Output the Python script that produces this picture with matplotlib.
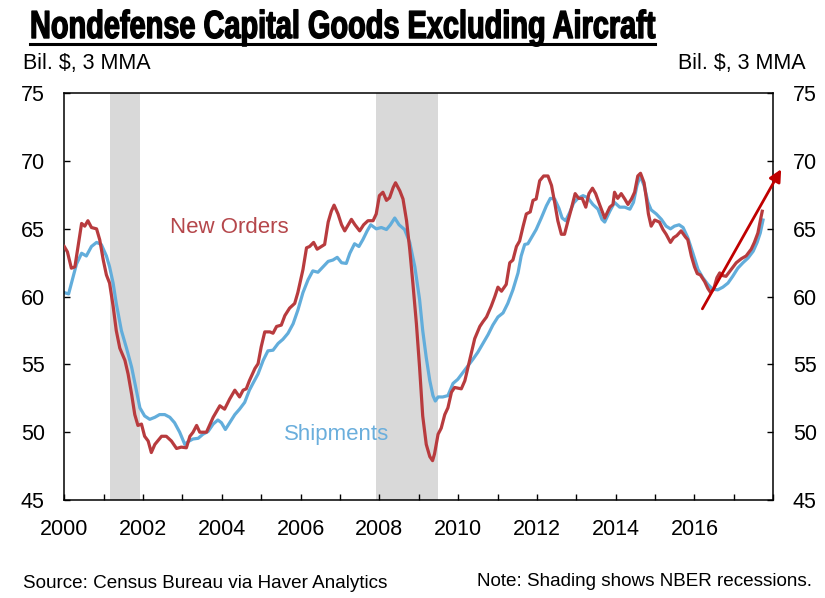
import matplotlib
matplotlib.use('Agg')
import matplotlib.pyplot as plt
import matplotlib.patheffects as pe
from matplotlib.lines import Line2D
from matplotlib.transforms import Affine2D
from matplotlib.ticker import MultipleLocator

plt.rcParams['font.family'] = ['Liberation Sans', 'DejaVu Sans']

# New orders, Bil. $ 3 MMA (decimal year, value)
orders_t = [2000.00, 2000.08, 2000.18, 2000.27, 2000.35, 2000.44, 2000.52, 2000.60, 2000.69, 2000.82,
            2000.90, 2000.99, 2001.07, 2001.15, 2001.24, 2001.32, 2001.41, 2001.54, 2001.62, 2001.71,
            2001.79, 2001.87, 2001.96, 2002.04, 2002.13, 2002.21, 2002.30, 2002.47, 2002.59, 2002.72,
            2002.85, 2002.97, 2003.10, 2003.19, 2003.27, 2003.36, 2003.44, 2003.61, 2003.78, 2003.95,
            2004.07, 2004.20, 2004.33, 2004.45, 2004.54, 2004.62, 2004.70, 2004.84, 2004.92, 2005.00,
            2005.09, 2005.22, 2005.30, 2005.39, 2005.51, 2005.60, 2005.72, 2005.85, 2005.93, 2006.06,
            2006.15, 2006.23, 2006.33, 2006.42, 2006.53, 2006.61, 2006.70, 2006.78, 2006.85, 2006.95,
            2007.04, 2007.12, 2007.21, 2007.29, 2007.38, 2007.50, 2007.60, 2007.71, 2007.84, 2007.92,
            2008.00, 2008.09, 2008.18, 2008.26, 2008.35, 2008.41, 2008.52, 2008.60, 2008.69, 2008.77,
            2008.85, 2008.94, 2009.02, 2009.10, 2009.19, 2009.28, 2009.35, 2009.40, 2009.49, 2009.57,
            2009.66, 2009.74, 2009.83, 2009.91, 2010.08, 2010.17, 2010.25, 2010.33, 2010.42, 2010.55,
            2010.63, 2010.72, 2010.84, 2010.93, 2011.01, 2011.10, 2011.22, 2011.31, 2011.39, 2011.48,
            2011.56, 2011.65, 2011.73, 2011.83, 2011.90, 2011.98, 2012.07, 2012.17, 2012.28, 2012.37,
            2012.45, 2012.53, 2012.62, 2012.70, 2012.79, 2012.87, 2012.97, 2013.06, 2013.15, 2013.24,
            2013.32, 2013.41, 2013.49, 2013.59, 2013.72, 2013.85, 2013.93, 2013.97, 2014.05, 2014.14,
            2014.23, 2014.31, 2014.40, 2014.48, 2014.56, 2014.63, 2014.72, 2014.78, 2014.83, 2014.90,
            2014.99, 2015.11, 2015.20, 2015.28, 2015.39, 2015.47, 2015.55, 2015.66, 2015.77, 2015.83,
            2015.92, 2016.00, 2016.07, 2016.15, 2016.26, 2016.34, 2016.41, 2016.49, 2016.57, 2016.64,
            2016.72, 2016.80, 2016.93, 2017.06, 2017.19, 2017.31, 2017.44, 2017.52, 2017.61, 2017.67,
            2017.72]
orders_v = [63.7, 63.3, 62.1, 62.2, 63.7, 65.4, 65.2, 65.6, 65.1, 65.0,
            64.2, 62.7, 61.6, 61.0, 59.3, 57.5, 56.2, 55.3, 54.3, 52.8,
            51.3, 50.5, 50.6, 49.7, 49.35, 48.5, 49.1, 49.7, 49.7, 49.35,
            48.8, 48.9, 48.85, 49.7, 50.0, 50.5, 50.0, 50.0, 51.1, 51.95,
            51.7, 52.45, 53.1, 52.6, 53.1, 53.2, 53.8, 54.7, 55.05, 56.3,
            57.4, 57.4, 57.3, 57.8, 57.9, 58.6, 59.15, 59.5, 60.3, 62.0,
            63.6, 63.7, 64.0, 63.5, 63.7, 63.85, 65.5, 66.3, 66.75, 66.1,
            65.3, 64.85, 65.3, 65.7, 65.3, 64.85, 65.3, 65.6, 65.6, 66.1,
            67.45, 67.7, 67.1, 67.3, 68.05, 68.4, 67.8, 67.2, 65.6, 63.5,
            61.0, 58.0, 54.8, 51.2, 49.1, 48.2, 47.9, 48.4, 49.85, 50.3,
            51.3, 51.8, 52.95, 53.3, 53.2, 53.8, 54.8, 55.8, 56.9, 57.8,
            58.15, 58.5, 59.3, 60.0, 60.7, 60.4, 60.9, 62.5, 62.7, 63.7,
            64.1, 65.2, 66.1, 66.25, 67.1, 67.2, 68.55, 68.9, 68.9, 68.2,
            66.95, 65.6, 64.6, 64.6, 65.6, 66.45, 67.6, 67.25, 67.25, 66.6,
            67.6, 68.0, 67.6, 66.8, 65.8, 66.6, 66.8, 67.7, 67.25, 67.6,
            67.2, 66.8, 67.2, 67.7, 68.9, 69.1, 68.4, 67.2, 66.1, 65.2,
            65.65, 65.5, 64.95, 64.6, 64.0, 64.35, 64.5, 64.85, 64.4, 64.2,
            63.0, 62.2, 61.7, 61.6, 61.1, 60.6, 60.3, 60.6, 61.4, 61.75,
            61.55, 61.5, 62.0, 62.5, 62.8, 63.0, 63.5, 64.0, 64.7, 65.6,
            66.3]

# Shipments, Bil. $ 3 MMA
ship_t = [2000.00, 2000.11, 2000.22, 2000.31, 2000.44, 2000.56, 2000.69, 2000.82, 2000.94, 2001.07,
          2001.15, 2001.24, 2001.32, 2001.45, 2001.58, 2001.71, 2001.83, 2001.92, 2002.04, 2002.17,
          2002.30, 2002.42, 2002.55, 2002.68, 2002.80, 2002.93, 2003.06, 2003.14, 2003.27, 2003.40,
          2003.52, 2003.65, 2003.78, 2003.90, 2003.99, 2004.09, 2004.20, 2004.33, 2004.45, 2004.58,
          2004.70, 2004.79, 2004.92, 2005.05, 2005.17, 2005.30, 2005.43, 2005.55, 2005.68, 2005.81,
          2005.93, 2006.06, 2006.19, 2006.31, 2006.44, 2006.57, 2006.70, 2006.82, 2006.93, 2007.04,
          2007.16, 2007.25, 2007.37, 2007.48, 2007.58, 2007.69, 2007.78, 2007.92, 2008.05, 2008.18,
          2008.28, 2008.39, 2008.50, 2008.64, 2008.77, 2008.90, 2009.02, 2009.10, 2009.19, 2009.28,
          2009.36, 2009.42, 2009.49, 2009.61, 2009.74, 2009.87, 2009.99, 2010.12, 2010.25, 2010.38,
          2010.50, 2010.63, 2010.76, 2010.88, 2011.01, 2011.14, 2011.26, 2011.39, 2011.52, 2011.60,
          2011.69, 2011.77, 2011.86, 2011.98, 2012.11, 2012.24, 2012.34, 2012.45, 2012.56, 2012.64,
          2012.73, 2012.83, 2012.93, 2013.04, 2013.17, 2013.29, 2013.42, 2013.55, 2013.65, 2013.72,
          2013.85, 2013.97, 2014.10, 2014.23, 2014.36, 2014.45, 2014.54, 2014.62, 2014.72, 2014.82,
          2014.90, 2015.03, 2015.16, 2015.28, 2015.39, 2015.49, 2015.61, 2015.71, 2015.83, 2015.96,
          2016.09, 2016.21, 2016.34, 2016.46, 2016.59, 2016.72, 2016.85, 2016.97, 2017.10, 2017.23,
          2017.36, 2017.49, 2017.59, 2017.67, 2017.74]
ship_v = [60.3, 60.2, 61.4, 62.4, 63.2, 63.0, 63.7, 64.0, 63.85, 63.0,
          62.2, 61.0, 59.5, 57.5, 56.2, 54.8, 53.1, 51.8, 51.2, 50.95,
          51.1, 51.3, 51.3, 51.1, 50.7, 50.0, 49.1, 49.3, 49.5, 49.55,
          49.85, 50.05, 50.6, 50.9, 50.7, 50.2, 50.7, 51.3, 51.7, 52.2,
          53.1, 53.6, 54.3, 55.3, 56.0, 56.05, 56.55, 56.85, 57.3, 58.0,
          59.0, 60.3, 61.25, 61.9, 61.8, 62.2, 62.6, 62.7, 62.9, 62.5,
          62.45, 63.2, 63.9, 63.7, 64.2, 64.85, 65.3, 65.0, 65.1, 64.95,
          65.3, 65.8, 65.3, 64.95, 64.0, 62.2, 59.8, 57.5, 55.5, 53.8,
          52.7, 52.3, 52.6, 52.6, 52.7, 53.6, 53.9, 54.4, 54.9, 55.4,
          55.9, 56.55, 57.2, 57.9, 58.5, 58.8, 59.5, 60.5, 61.75, 63.0,
          63.85, 63.9, 64.35, 64.95, 65.8, 66.7, 67.25, 67.2, 66.5, 65.8,
          65.6, 66.2, 66.9, 67.25, 67.45, 67.3, 66.8, 66.45, 65.7, 65.5,
          66.3, 66.95, 66.6, 66.6, 66.45, 66.95, 68.2, 68.9, 68.2, 66.95,
          66.4, 66.1, 65.7, 65.2, 65.0, 65.2, 65.3, 65.1, 64.35, 63.2,
          62.0, 61.4, 60.9, 60.55, 60.5, 60.7, 61.0, 61.5, 62.1, 62.5,
          62.85, 63.35, 64.0, 64.7, 65.65]

# NBER recessions (start, end)
recessions = [(2001.17, 2001.92), (2007.92, 2009.49)]

# trend arrow (start, tip) in data units
arrow_start = (2016.2, 59.1)
arrow_tip = (2018.2, 69.4)

RED = '#B83B3E'
BLUE = '#62ADDB'


class Stretch(pe.AbstractPathEffect):
    """Draw the text path scaled by (sx, sy) around its origin, with a stroke."""

    def __init__(self, sx, sy, stroke=1.0):
        super().__init__()
        self.sx, self.sy, self.stroke = sx, sy, stroke

    def draw_path(self, renderer, gc, tpath, affine, rgbFace=None):
        aff = Affine2D().scale(self.sx, self.sy) + affine
        gc0 = renderer.new_gc()
        gc0.copy_properties(gc)
        gc0.set_linewidth(self.stroke)
        gc0.set_foreground('black')
        renderer.draw_path(gc0, tpath, aff, rgbFace)
        gc0.restore()


fig = plt.figure(figsize=(8.25, 5.98), dpi=100)
ax = fig.add_axes([0.0779, 0.1639, 0.8594, 0.6801])

for a, b in recessions:
    ax.axvspan(a, b, color='#D9D9D9', lw=0, zorder=0)

ax.plot(ship_t, ship_v, color=BLUE, lw=2.3, zorder=2)
ax.plot(orders_t, orders_v, color=RED, lw=2.3, zorder=3)

ax.annotate('', xy=arrow_tip, xytext=arrow_start, annotation_clip=False,
            arrowprops=dict(arrowstyle='-|>', color='#C00000', lw=2,
                            mutation_scale=18, shrinkA=0, shrinkB=0), zorder=4)

ax.text(2004.2, 65.1, 'New Orders', color='#B5474B', fontsize=16, ha='center', va='center')
ax.text(2006.92, 49.8, 'Shipments', color='#6AAEDC', fontsize=16, ha='center', va='center')

ax.set_xlim(2000, 2018)
ax.set_ylim(45, 75)
ax.xaxis.set_minor_locator(MultipleLocator(1))
ax.set_xticks(range(2000, 2018, 2))
ax.set_yticks(range(45, 80, 5))
ax.tick_params(axis='both', which='both', direction='in', length=4, width=1, labelsize=15.5)
ax.tick_params(axis='x', which='both', pad=14)
ax.tick_params(axis='y', right=True, labelright=True, pad=14)
for s in ax.spines.values():
    s.set_linewidth(1.1)

fig.text(22.7 / 825, 1 - 64 / 598, 'Bil. $, 3 MMA', fontsize=15.5, va='center', ha='left')
fig.text(806 / 825, 1 - 64 / 598, 'Bil. $, 3 MMA', fontsize=15.5, va='center', ha='right')
fig.text(22.7 / 825, 1 - 583 / 598, 'Source: Census Bureau via Haver Analytics', fontsize=13.6,
         va='center', ha='left')
fig.text(812 / 825, 1 - 581 / 598, 'Note: Shading shows NBER recessions.', fontsize=13.6,
         va='center', ha='right')

# title: condensed, heavy look -> stretch the glyph paths to the reference box
title_size = 22
title = fig.text(30 / 825, 1 - 38 / 598, 'Nondefense Capital Goods Excluding Aircraft',
                 fontsize=title_size, fontweight='bold', va='baseline', ha='left')
fig.canvas.draw()
w = title.get_window_extent().width
cap_px = 0.716 * title_size * 100 / 72
title.set_path_effects([Stretch(625 / w, 28 / cap_px, stroke=1.0)])
fig.add_artist(Line2D([30 / 825, 655 / 825], [1 - 43.5 / 598, 1 - 43.5 / 598],
                      color='black', lw=2.2, transform=fig.transFigure))

fig.savefig('out.png', dpi=100)
